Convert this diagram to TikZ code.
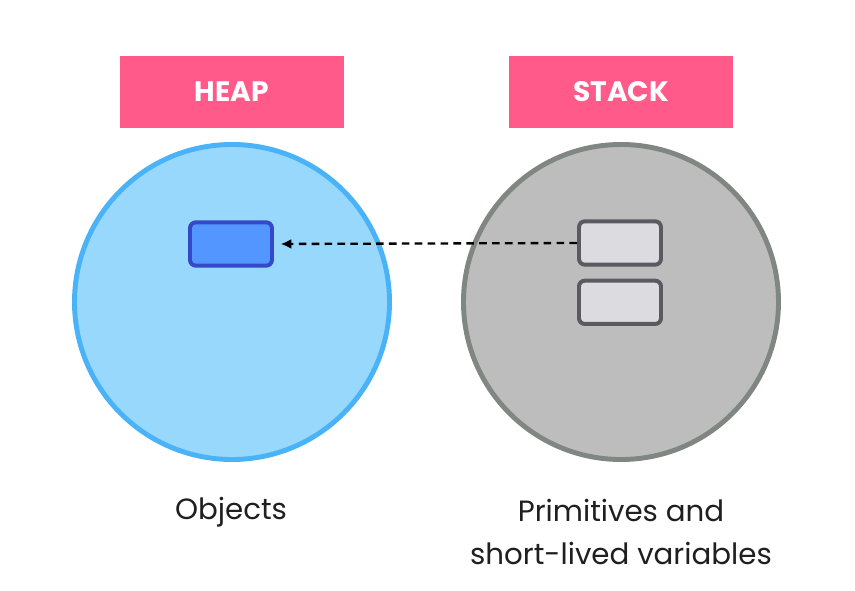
\documentclass[tikz,border=0pt]{standalone}
\usepackage{fontspec}
\setmainfont{Poppins}
\usetikzlibrary{arrows.meta,positioning}
\definecolor{tagpink}{RGB}{255,90,138}
\definecolor{heapfill}{RGB}{152,216,252}
\definecolor{heapline}{RGB}{74,178,246}
\definecolor{stackfill}{RGB}{189,189,189}
\definecolor{stackline}{RGB}{128,134,130}
\definecolor{objfill}{RGB}{84,150,255}
\definecolor{objline}{RGB}{52,72,200}
\definecolor{slotfill}{RGB}{220,220,224}
\definecolor{slotline}{RGB}{90,90,96}
\begin{document}
\begin{tikzpicture}[x=0.03cm,y=-0.03cm,
  tag/.style={rectangle,fill=tagpink,text=white,minimum width=6.72cm,minimum height=2.16cm,
              font=\fontsize{24}{28}\selectfont\bfseries},
  area/.style={circle,line width=4.2pt,minimum size=9.45cm,inner sep=0pt},
  cell/.style={rectangle,rounded corners=5pt,line width=3.4pt,minimum width=2.46cm,minimum height=1.3cm},
  arr/.style={-{Latex[length=3.2mm,width=3mm]},line width=2pt,dash pattern=on 6.5pt off 4.5pt,shorten >=0.2cm},
  note/.style={font=\fontsize{25}{36}\selectfont,align=center,text=black!88}
]
\useasboundingbox (0,0) rectangle (855,591);

\node[tag] (heaptag) at (232,92) {HEAP};
\node[tag] (stacktag) at (621,92) {STACK};

\node[area,fill=heapfill,draw=heapline] (heap) at (232,302) {};
\node[area,fill=stackfill,draw=stackline] (stack) at (621,302) {};

\node[cell,fill=objfill,draw=objline] (obj) at (231,244) {};
\node[cell,fill=slotfill,draw=slotline] (slot1) at (620,243) {};
\node[cell,fill=slotfill,draw=slotline,below=0.36cm of slot1] (slot2) {};

\draw[arr] (slot1.west) -- (obj.east);

\node[note] (objtxt) at (231,512) {Objects};
\node[note] (primtxt) at (621,532) {Primitives and\\short-lived variables};
\end{tikzpicture}
\end{document}
